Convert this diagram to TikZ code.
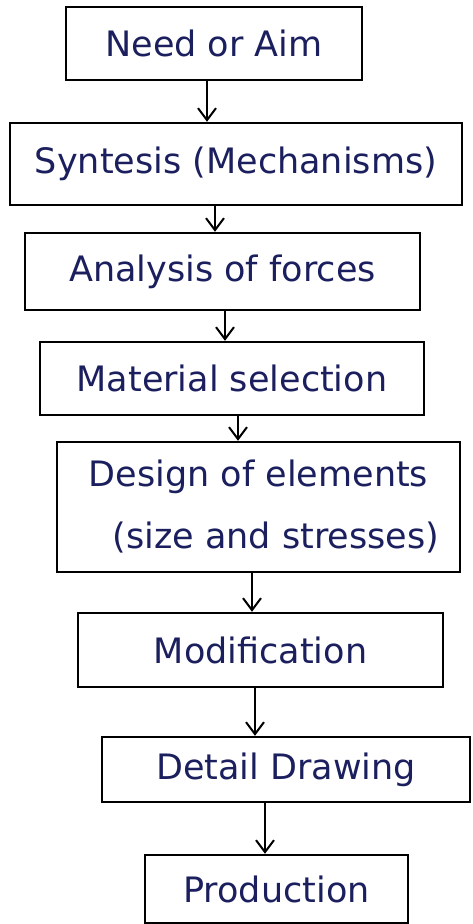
\documentclass[tikz,border=0pt]{standalone}
\usepackage{fontspec}
\setmainfont{DejaVu Sans}
\usetikzlibrary{arrows.meta}
\definecolor{ink}{HTML}{1B1F5E}
\tikzset{
  stage/.style={draw=black, line width=2.4pt, rectangle, inner sep=0pt,
    text=ink, font=\fontsize{35}{62}\selectfont, align=center},
  flow/.style={draw=black, line width=2.2pt, -{Straight Barb[length=12pt,width=18pt,line width=2pt]}}
}
\begin{document}
\begin{tikzpicture}[x=1pt,y=-1pt]
\useasboundingbox (0,0) rectangle (473,924);
\fill[white] (0,0) rectangle (473,924);
\node[stage, minimum width=296, minimum height=73] (n1) at (214,43.5) {Need or Aim};
\node[stage, minimum width=452, minimum height=82] (n2) at (236,164) {Syntesis (Mechanisms)};
\node[stage, minimum width=395, minimum height=77] (n3) at (222.5,271.5) {Analysis of forces};
\node[stage, minimum width=384, minimum height=73] (n4) at (232,378.5) {Material selection};
\node[stage, minimum width=403, minimum height=130] (n5) at (258.5,507) {Design of elements\\\hspace*{1em}(size and stresses)};
\node[stage, minimum width=365, minimum height=74] (n6) at (260.5,650) {Modification};
\node[stage, minimum width=368, minimum height=65] (n7) at (286,769.5) {Detail Drawing};
\node[stage, minimum width=263, minimum height=68] (n8) at (276.5,889) {Production};
\coordinate (a1) at (207,0);
\coordinate (a2) at (215,0);
\coordinate (a3) at (225,0);
\coordinate (a4) at (238,0);
\coordinate (a5) at (252,0);
\coordinate (a6) at (255,0);
\coordinate (a7) at (265,0);
\draw[flow] (a1 |- n1.south) -- (a1 |- n2.north);
\draw[flow] (a2 |- n2.south) -- (a2 |- n3.north);
\draw[flow] (a3 |- n3.south) -- (a3 |- n4.north);
\draw[flow] (a4 |- n4.south) -- (a4 |- n5.north);
\draw[flow] (a5 |- n5.south) -- (a5 |- n6.north);
\draw[flow] (a6 |- n6.south) -- (a6 |- n7.north);
\draw[flow] (a7 |- n7.south) -- (a7 |- n8.north);
\end{tikzpicture}
\end{document}
